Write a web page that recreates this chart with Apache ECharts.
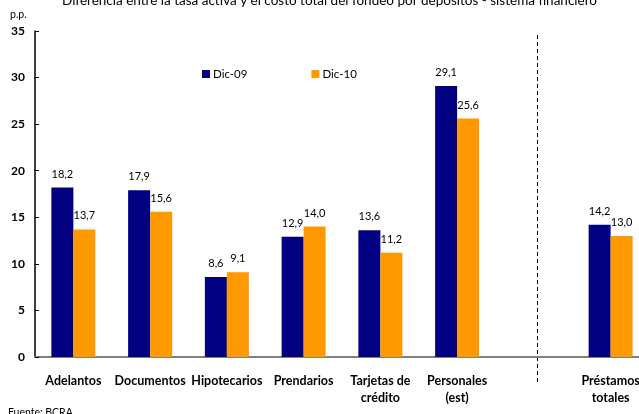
<!DOCTYPE html>
<html>
<head>
<meta charset="utf-8">
<script src="https://cdn.jsdelivr.net/npm/echarts@6/dist/echarts.min.js"></script>
<style>html,body{margin:0;padding:0;background:#fff;overflow:hidden;width:639px;height:414px;}#c{width:652px;height:414px;}</style>
</head>
<body>
<div id="c"></div>
<script>
const categories = ['Adelantos', 'Documentos', 'Hipotecarios', 'Prendarios', 'Tarjetas de\ncrédito', 'Personales\n(est)', '', 'Préstamos\ntotales'];
const dic09 = [18.2, 17.9, 8.6, 12.9, 13.6, 29.1, null, 14.2];
const dic10 = [13.7, 15.6, 9.1, 14.0, 11.2, 25.6, null, 13.0];
const yTicks = [0, 5, 10, 15, 20, 25, 30, 35];

const FONT = 'Lato, "Open Sans", sans-serif';
const chart = echarts.init(document.getElementById('c'), null, {renderer: 'canvas'});
const lbl = {
  show: true, position: 'top', distance: 8, color: '#000', fontSize: 11, fontFamily: FONT,
  formatter: p => p.value == null ? '' : p.value.toFixed(1).replace('.', ',')
};
const texts = [
  {type: 'text', left: 10, top: 9, style: {text: 'p.p.', fontSize: 10.5, fill: '#000', fontFamily: FONT}},
  {type: 'text', left: 8, top: 407, style: {text: 'Fuente: BCRA', fontSize: 10.5, fill: '#000', fontFamily: FONT}}
];
chart.setOption({
  animation: false,
  textStyle: {fontFamily: FONT},
  title: {
    text: 'Diferencia entre la tasa activa y el costo total del fondeo por depósitos - sistema financiero',
    left: 57, top: -11,
    textStyle: {fontSize: 13.5, fontWeight: 'normal', color: '#000', fontFamily: FONT}
  },
  graphic: texts,
  legend: {
    left: 202, top: 68, padding: 0, itemWidth: 8, itemHeight: 8, itemGap: 64,
    icon: 'rect',
    textStyle: {fontSize: 11.5, color: '#000', fontFamily: FONT, padding: [0, 0, 0, -2]},
    data: ['Dic-09', 'Dic-10']
  },
  grid: {left: 35, width: 614, top: 31, bottom: 57, containLabel: false},
  xAxis: {
    type: 'category', data: categories,
    axisLine: {lineStyle: {color: '#808080', width: 2}},
    axisTick: {show: false},
    axisLabel: {interval: 0, fontWeight: 'bold', fontSize: 12.5, color: '#000', margin: 15, lineHeight: 17, fontFamily: FONT}
  },
  yAxis: {
    type: 'value', min: 0, max: 35, interval: 5,
    axisLine: {show: true, lineStyle: {color: '#000', width: 1.5}},
    axisTick: {show: true, inside: true, length: 4, lineStyle: {color: '#000'}},
    splitLine: {show: false},
    axisLabel: {fontWeight: 'bold', fontSize: 12, color: '#000', margin: 10, fontFamily: FONT,
      formatter: v => yTicks.includes(v) ? String(v) : ''}
  },
  series: [
    {name: 'Dic-09', type: 'bar', data: dic09, barWidth: 22, barGap: '0%', itemStyle: {color: '#000080'}, label: lbl},
    {name: 'Dic-10', type: 'bar', data: dic10, barWidth: 22, barGap: '0%', itemStyle: {color: '#FF9900'}, label: lbl}
  ]
});

// dashed separator between Personales and Préstamos totales
const c6 = chart.convertToPixel({xAxisIndex: 0}, 6);
const c7 = chart.convertToPixel({xAxisIndex: 0}, 7);
const xSep = Math.round(c6 + (c7 - c6) * 0.04) + 0.5;
const yTop = chart.convertToPixel({yAxisIndex: 0}, 35);
chart.setOption({
  graphic: texts.concat([
    {type: 'line', shape: {x1: xSep, y1: yTop + 4, x2: xSep, y2: 384},
      style: {stroke: '#000', lineWidth: 1, lineDash: [4, 3]}}
  ])
});
</script>
</body>
</html>
